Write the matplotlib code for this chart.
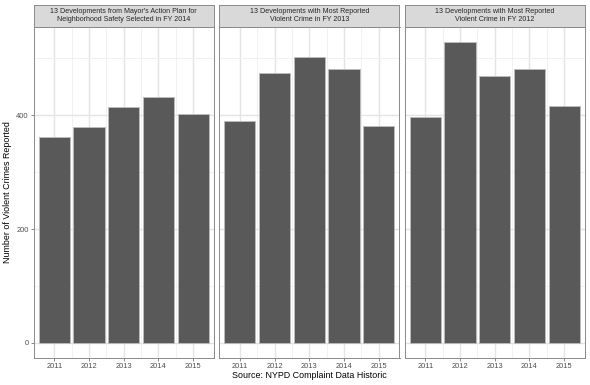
import numpy as np
import matplotlib.pyplot as plt

plt.rcParams['font.family'] = ['Liberation Sans', 'DejaVu Sans']

years = ['2011', '2012', '2013', '2014', '2015']
panel_titles = [
    "13 Developments from Mayor's Action Plan for\nNeighborhood Safety Selected in FY 2014",
    "13 Developments with Most Reported\nViolent Crime in FY 2013",
    "13 Developments with Most Reported\nViolent Crime in FY 2012",
]
map_2014 = [361, 380, 414, 432, 402]
top_2013 = [389, 475, 502, 482, 381]
top_2012 = [396, 529, 469, 482, 417]
series = [map_2014, top_2013, top_2012]

W, H = 590, 385
fig = plt.figure(figsize=(W / 100, H / 100), dpi=100)

# panel geometry in pixels
lefts = [33.5, 219.0, 404.5]
pw = 180.5
p_top, p_bot = 26.7, 358.0
strip_top = 4.5

ymax = max(max(s) for s in series)
ylo, yhi = -0.05 * ymax, ymax * 1.05
x = np.arange(1, len(years) + 1)

for i, (vals, title) in enumerate(zip(series, panel_titles)):
    ax = fig.add_axes([lefts[i] / W, (H - p_bot) / H, pw / W, (p_bot - p_top) / H])
    ax.set_axisbelow(True)
    ax.bar(x, vals, width=0.9, color='#595959', edgecolor='#bdbdbd', linewidth=0.6)
    ax.set_xlim(0.4, len(years) + 0.6)
    ax.set_ylim(ylo, yhi)
    ax.set_xticks(x)
    ax.set_xticklabels(years)
    ax.set_xticks(x[:-1] + 0.5, minor=True)
    ax.set_yticks([0, 200, 400])
    ax.set_yticks([100, 300, 500], minor=True)
    ax.grid(which='major', color='#e4e4e4', linewidth=1.0)
    ax.grid(which='minor', color='#efefef', linewidth=0.6)
    ax.tick_params(which='minor', length=0)
    ax.tick_params(which='major', length=2, width=0.5, color='#555555',
                   labelsize=5.4, labelcolor='#4d4d4d', pad=1.5)
    if i > 0:
        ax.tick_params(axis='y', which='major', length=0, labelleft=False)
    for sp in ax.spines.values():
        sp.set_color('#8a8a8a')
        sp.set_linewidth(0.7)

    sx = fig.add_axes([lefts[i] / W, (H - p_top) / H, pw / W, (p_top - strip_top) / H])
    sx.set_facecolor('#d9d9d9')
    sx.set_xticks([])
    sx.set_yticks([])
    for sp in sx.spines.values():
        sp.set_color('#8a8a8a')
        sp.set_linewidth(0.7)
    sx.text(0.5, 0.5, title, ha='center', va='center', fontsize=5.1,
            color='#262626', transform=sx.transAxes, linespacing=1.15)

fig.text(8 / W, 1 - 192 / H, 'Number of Violent Crimes Reported', rotation=90,
         ha='center', va='center', fontsize=6.4, color='black')
fig.text(309 / W, 1 - 376 / H, 'Source: NYPD Complaint Data Historic',
         ha='center', va='center', fontsize=6.4, color='black')

fig.savefig('out.png', dpi=100, facecolor='white')
